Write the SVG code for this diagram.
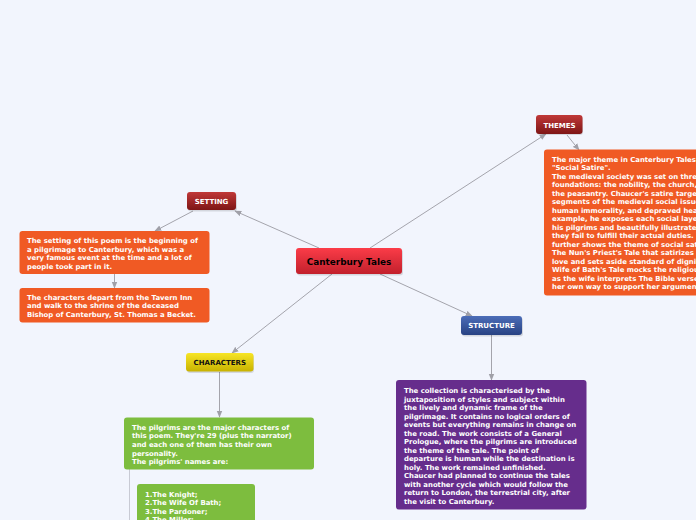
<svg xmlns="http://www.w3.org/2000/svg" width="696" height="520" viewBox="0 0 696 520">
<defs>
<linearGradient id="gRed" x1="0" y1="0" x2="0" y2="1"><stop offset="0" stop-color="#fb3c48"/><stop offset="1" stop-color="#c2202c"/></linearGradient>
<linearGradient id="gDark" x1="0" y1="0" x2="0" y2="1"><stop offset="0" stop-color="#c03838"/><stop offset="1" stop-color="#7e1616"/></linearGradient>
<linearGradient id="gBlue" x1="0" y1="0" x2="0" y2="1"><stop offset="0" stop-color="#4c6db8"/><stop offset="1" stop-color="#284283"/></linearGradient>
<linearGradient id="gYel" x1="0" y1="0" x2="0" y2="1"><stop offset="0" stop-color="#f7e526"/><stop offset="1" stop-color="#c8b200"/></linearGradient>
<marker id="arr" viewBox="0 0 10 10" refX="9" refY="5" markerWidth="7" markerHeight="7" orient="auto" markerUnits="userSpaceOnUse"><path d="M0,1 L10,5 L0,9 z" fill="#a0a0a8"/></marker>
</defs>
<style>
.c{stroke:#a4a4ac;stroke-width:1;fill:none}
.t{font-family:"DejaVu Sans","Verdana",sans-serif;font-weight:bold;font-size:6.9px;fill:#ffffff}
.lbl{font-family:"DejaVu Sans","Verdana",sans-serif;font-weight:bold;font-size:7px;fill:#ffffff;text-anchor:middle}
.sh{fill:#000;opacity:0.12}
</style>
<rect width="696" height="520" fill="#f2f5fd"/>
<g id="connectors">
<line class="c" x1="319" y1="248" x2="235" y2="211" marker-end="url(#arr)"/>
<line class="c" x1="193" y1="211" x2="155" y2="231" marker-end="url(#arr)"/>
<line class="c" x1="114.5" y1="274" x2="114.5" y2="288" marker-end="url(#arr)"/>
<line class="c" x1="370" y1="248" x2="546" y2="134" marker-end="url(#arr)"/>
<line class="c" x1="567" y1="135" x2="579" y2="150" marker-end="url(#arr)"/>
<line class="c" x1="380" y1="274" x2="472" y2="316" marker-end="url(#arr)"/>
<line class="c" x1="491.5" y1="335" x2="491.5" y2="380" marker-end="url(#arr)"/>
<line class="c" x1="332" y1="274" x2="232" y2="353" marker-end="url(#arr)"/>
<line class="c" x1="219.5" y1="372" x2="219.5" y2="417" marker-end="url(#arr)"/>
<line x1="129.5" y1="469" x2="129.5" y2="520" stroke="#c8cad4" stroke-width="1"/>
</g>
<g id="central">
<rect class="sh" x="297" y="249.5" width="106" height="26" rx="3"/>
<rect x="296" y="248" width="106" height="26" rx="3" fill="url(#gRed)"/>
<text x="349" y="265" text-anchor="middle" font-family="DejaVu Sans, Verdana, sans-serif" font-weight="bold" font-size="8.9" fill="#000">Canterbury Tales</text>
</g>
<g id="setting">
<rect class="sh" x="188" y="193.5" width="49" height="18" rx="3"/>
<rect x="187" y="192" width="49" height="18" rx="3" fill="url(#gDark)"/>
<text class="lbl" x="211.5" y="203.5">SETTING</text>
</g>
<g id="setting-text-1">
<rect x="19.5" y="231" width="190" height="43" rx="3" fill="#f05a24"/>
<text class="t"><tspan x="27" y="243">The setting of this poem is the beginning of</tspan><tspan x="27" y="251.6">a pilgrimage to Canterbury, which was a</tspan><tspan x="27" y="260.2">very famous event at the time and a lot of</tspan><tspan x="27" y="268.8">people took part in it.</tspan></text>
</g>
<g id="setting-text-2">
<rect x="19.5" y="288" width="190" height="34.5" rx="3" fill="#f05a24"/>
<text class="t"><tspan x="27" y="299.5">The characters depart from the Tavern Inn</tspan><tspan x="27" y="308.1">and walk to the shrine of the deceased</tspan><tspan x="27" y="316.7">Bishop of Canterbury, St. Thomas a Becket.</tspan></text>
</g>
<g id="themes">
<rect class="sh" x="537" y="116.5" width="46" height="18.5" rx="3"/>
<rect x="536" y="115" width="46.5" height="19" rx="3" fill="url(#gDark)"/>
<text class="lbl" x="559.5" y="127.7">THEMES</text>
</g>
<g id="themes-text">
<rect x="544" y="149.5" width="170" height="146" rx="3" fill="#f05a24"/>
<text class="t"><tspan x="552" y="161.8">The major theme in Canterbury Tales is</tspan><tspan x="552" y="170.3">"Social Satire".</tspan><tspan x="552" y="178.8">The medieval society was set on three</tspan><tspan x="552" y="187.3">foundations: the nobility, the church, and</tspan><tspan x="552" y="195.8">the peasantry. Chaucer's satire targets</tspan><tspan x="552" y="204.3">segments of the medieval social issues</tspan><tspan x="552" y="212.8">human immorality, and depraved hearts</tspan><tspan x="552" y="221.3">example, he exposes each social layer</tspan><tspan x="552" y="229.8">his pilgrims and beautifully illustrates</tspan><tspan x="552" y="238.3">they fail to fulfill their actual duties.</tspan><tspan x="552" y="246.8">further shows the theme of social satire</tspan><tspan x="552" y="255.3">The Nun's Priest's Tale that satirizes</tspan><tspan x="552" y="263.8">love and sets aside standard of dignity</tspan><tspan x="552" y="272.3">Wife of Bath's Tale mocks the religious</tspan><tspan x="552" y="280.8">as the wife interprets The Bible verses</tspan><tspan x="552" y="289.3">her own way to support her argument</tspan></text>
</g>
<g id="structure">
<rect class="sh" x="462" y="317.5" width="61" height="19" rx="3"/>
<rect x="461" y="316" width="61" height="19" rx="3" fill="url(#gBlue)"/>
<text class="lbl" x="491.5" y="328.3">STRUCTURE</text>
</g>
<g id="structure-text">
<rect x="396" y="380" width="190.5" height="129.5" rx="3" fill="#662d8c"/>
<text class="t"><tspan x="404" y="393">The collection is characterised by the</tspan><tspan x="404" y="401.5">juxtaposition of styles and subject within</tspan><tspan x="404" y="410">the lively and dynamic frame of the</tspan><tspan x="404" y="418.5">pilgrimage. It contains no logical orders of</tspan><tspan x="404" y="427">events but everything remains in change on</tspan><tspan x="404" y="435.5">the road. The work consists of a General</tspan><tspan x="404" y="444">Prologue, where the pilgrims are introduced</tspan><tspan x="404" y="452.5">the theme of the tale. The point of</tspan><tspan x="404" y="461">departure is human while the destination is</tspan><tspan x="404" y="469.5">holy. The work remained unfinished.</tspan><tspan x="404" y="478">Chaucer had planned to continue the tales</tspan><tspan x="404" y="486.5">with another cycle which would follow the</tspan><tspan x="404" y="495">return to London, the terrestrial city, after</tspan><tspan x="404" y="503.5">the visit to Canterbury.</tspan></text>
</g>
<g id="characters">
<rect class="sh" x="187" y="354.5" width="67" height="18.5" rx="3"/>
<rect x="186" y="353" width="67.5" height="18.5" rx="3" fill="url(#gYel)"/>
<text class="lbl" x="219.8" y="365.3" style="fill:#111">CHARACTERS</text>
</g>
<g id="characters-text">
<rect x="124" y="417.5" width="190" height="52" rx="3" fill="#7dbd3e"/>
<text class="t"><tspan x="132" y="429.8">The pilgrims are the major characters of</tspan><tspan x="132" y="438.4">this poem. They're 29 (plus the narrator)</tspan><tspan x="132" y="447">and each one of them has their own</tspan><tspan x="132" y="455.6">personality.</tspan><tspan x="132" y="464.2">The pilgrims' names are:</tspan></text>
</g>
<g id="pilgrims-list">
<rect x="137" y="484" width="118" height="50" rx="3" fill="#7dbd3e"/>
<text class="t"><tspan x="145" y="496.5">1.The Knight;</tspan><tspan x="145" y="505">2.The Wife Of Bath;</tspan><tspan x="145" y="513.5">3.The Pardoner;</tspan><tspan x="145" y="522">4.The Miller;</tspan></text>
</g>
</svg>
